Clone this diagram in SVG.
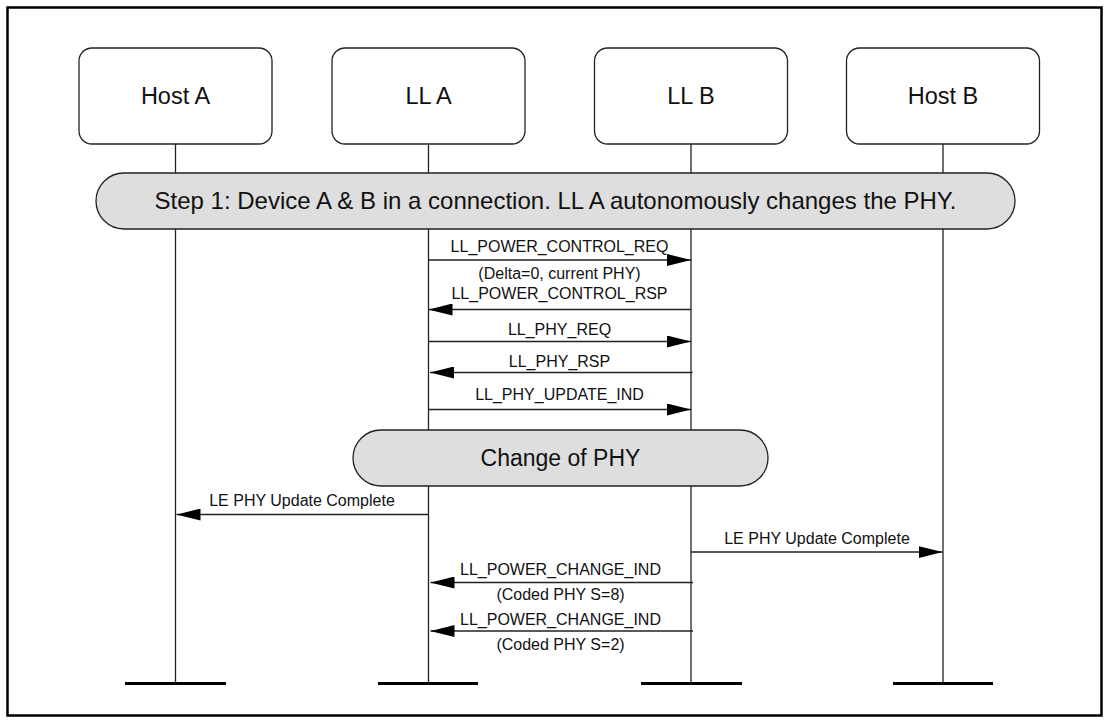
<svg xmlns="http://www.w3.org/2000/svg" width="1109" height="724" viewBox="0 0 1109 724">
  <defs>
    <marker id="ah" viewBox="0 0 24 12" refX="24" refY="6" markerWidth="24" markerHeight="12" markerUnits="userSpaceOnUse" orient="auto">
      <path d="M0,0 L24,6 L0,12 z" fill="#000"/>
    </marker>
    <style>
      .frame{fill:#fff;stroke:#000;stroke-width:2.5}
      .box{fill:#fff;stroke:#222;stroke-width:1.3}
      .pill{fill:#dedede;stroke:#222;stroke-width:1.3}
      .life{stroke:#222;stroke-width:1.3;fill:none}
      .foot{stroke:#000;stroke-width:3}
      .msg{stroke:#222;stroke-width:1.3;fill:none;marker-end:url(#ah)}
      .big{font-family:"Liberation Sans",Arial,sans-serif;font-size:23.5px;fill:#111;text-anchor:middle}
      .lbl{font-family:"Liberation Sans",Arial,sans-serif;font-size:16px;fill:#111;text-anchor:middle}
    </style>
  </defs>
  <rect class="frame" x="7.5" y="7.5" width="1094" height="708"/>

  <g id="lifelines">
    <line class="life" x1="175.5" y1="144" x2="175.5" y2="683"/>
    <line class="life" x1="428.5" y1="144" x2="428.5" y2="683"/>
    <line class="life" x1="691" y1="144" x2="691" y2="683"/>
    <line class="life" x1="943" y1="144" x2="943" y2="683"/>
    <line class="foot" x1="125" y1="683.5" x2="226" y2="683.5"/>
    <line class="foot" x1="378" y1="683.5" x2="478" y2="683.5"/>
    <line class="foot" x1="641" y1="683.5" x2="742" y2="683.5"/>
    <line class="foot" x1="893" y1="683.5" x2="993" y2="683.5"/>
  </g>

  <g id="hostA">
    <rect class="box" x="79" y="48" width="193" height="96" rx="13"/>
    <text class="big" x="175.5" y="104">Host A</text>
  </g>
  <g id="llA">
    <rect class="box" x="332" y="48" width="193" height="96" rx="13"/>
    <text class="big" x="428.5" y="104">LL A</text>
  </g>
  <g id="llB">
    <rect class="box" x="594.5" y="48" width="193" height="96" rx="13"/>
    <text class="big" x="691" y="104">LL B</text>
  </g>
  <g id="hostB">
    <rect class="box" x="846.5" y="48" width="193" height="96" rx="13"/>
    <text class="big" x="943" y="104">Host B</text>
  </g>

  <g id="step1">
    <rect class="pill" x="96" y="173" width="919" height="56" rx="28"/>
    <text class="big" x="555.5" y="209" style="font-size:24px">Step 1: Device A &amp; B in a connection. LL A autonomously changes the PHY.</text>
  </g>

  <g id="changePhy">
    <rect class="pill" x="353" y="430" width="415" height="56" rx="28"/>
    <text class="big" x="560.5" y="466" style="font-size:23px">Change of PHY</text>
  </g>

  <g id="connectors">
    <line class="msg" x1="428.5" y1="260" x2="691" y2="260"/>
    <text class="lbl" x="559.5" y="252">LL_POWER_CONTROL_REQ</text>
    <text class="lbl" x="559.5" y="279">(Delta=0, current PHY)</text>

    <line class="msg" x1="691" y1="309.5" x2="428.5" y2="309.5"/>
    <text class="lbl" x="559.5" y="299">LL_POWER_CONTROL_RSP</text>

    <line class="msg" x1="428.5" y1="341.5" x2="691" y2="341.5"/>
    <text class="lbl" x="559.5" y="335">LL_PHY_REQ</text>

    <line class="msg" x1="692.5" y1="372.5" x2="430" y2="372.5"/>
    <text class="lbl" x="559.5" y="366.5">LL_PHY_RSP</text>

    <line class="msg" x1="428.5" y1="409.5" x2="691" y2="409.5"/>
    <text class="lbl" x="559.5" y="400">LL_PHY_UPDATE_IND</text>

    <line class="msg" x1="428.5" y1="514.5" x2="176.5" y2="514.5"/>
    <text class="lbl" x="302" y="506">LE PHY Update Complete</text>

    <line class="msg" x1="691" y1="552" x2="942.5" y2="552"/>
    <text class="lbl" x="817" y="544">LE PHY Update Complete</text>

    <line class="msg" x1="693" y1="582.5" x2="430.5" y2="582.5"/>
    <text class="lbl" x="560.5" y="575">LL_POWER_CHANGE_IND</text>
    <text class="lbl" x="560.5" y="599.5">(Coded PHY S=8)</text>

    <line class="msg" x1="693" y1="631" x2="430.5" y2="631"/>
    <text class="lbl" x="560.5" y="625">LL_POWER_CHANGE_IND</text>
    <text class="lbl" x="560.5" y="650">(Coded PHY S=2)</text>
  </g>
</svg>
